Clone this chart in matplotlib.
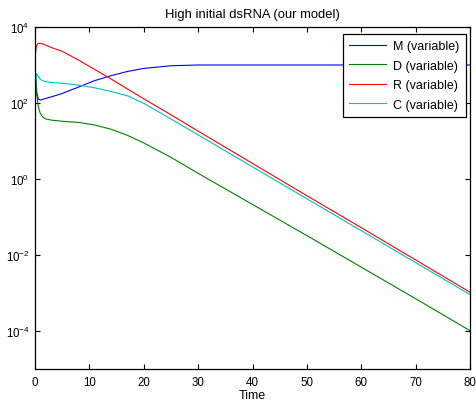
import matplotlib
matplotlib.use("Agg")
import matplotlib.pyplot as plt
import numpy as np

plt.rcParams['font.family'] = ['Liberation Sans', 'DejaVu Sans']
plt.rcParams['mathtext.fontset'] = 'custom'
plt.rcParams['mathtext.rm'] = 'Liberation Sans'
plt.rcParams['mathtext.it'] = 'Liberation Sans:italic'
plt.rcParams['mathtext.bf'] = 'Liberation Sans:bold'

# Sample times of the simulation output
time = [0, 0.15, 0.3, 0.6, 1, 1.5, 2, 3, 5, 8, 11, 14, 17, 20, 25, 30,
        40, 50, 60, 70, 80]

# Species trajectories
M = [1000, 398, 200, 126, 120, 126, 132, 145, 178, 263, 389, 525, 676,
     813, 955, 1000, 1000, 1000, 1000, 1000, 1000]
D = [1000, 398, 178, 83.2, 51.3, 41.7, 38.0, 35.5, 33.1, 30.9, 26.3, 20.4,
     14.1, 8.91, 3.72, 1.41, 0.214, 0.0324, 0.00479, 0.000708, 0.000102]
R = [1288, 2512, 3311, 3715, 3715, 3548, 3311, 2884, 2291, 1349, 759, 427,
     234, 129, 49, 18.2, 2.57, 0.363, 0.0525, 0.00741, 0.00105]
C = [100, 447, 603, 501, 417, 380, 363, 347, 331, 295, 251, 200, 155, 98,
     38, 14.5, 2.09, 0.302, 0.0437, 0.00631, 0.000912]

labels = ['M (variable)', 'D (variable)', 'R (variable)', 'C (variable)']
colors = ['#0000ff', '#008000', '#ff0000', '#00bfbf']

xticks = [0, 10, 20, 30, 40, 50, 60, 70, 80]
yticks = [1e-4, 1e-2, 1e0, 1e2, 1e4]

fig = plt.figure(figsize=(4.77, 4.10), dpi=100)
ax = fig.add_axes([35 / 477, 40 / 410, 435 / 477, 342 / 410])

for series, lab, col in zip([M, D, R, C], labels, colors):
    ax.plot(time, series, color=col, lw=0.8, label=lab)

ax.set_yscale('log')
ax.set_xlim(0, 80)
ax.set_ylim(1e-5, 1e4)
ax.set_xticks(xticks)
ax.set_yticks(yticks)
ax.yaxis.set_minor_locator(matplotlib.ticker.NullLocator())
ax.tick_params(which='both', direction='in', top=True, right=True,
               length=3.5, width=0.8, labelsize=8.3, pad=4)
ax.tick_params(axis='x', pad=5)
for sp in ax.spines.values():
    sp.set_linewidth(0.9)

ax.set_xlabel('Time', fontsize=9, labelpad=1)
ax.set_title('High initial dsRNA (our model)', fontsize=9.4, pad=7)

leg = ax.legend(loc='upper right', bbox_to_anchor=(466 / 477, 375 / 410),
                bbox_transform=fig.transFigure, borderaxespad=0,
                fontsize=9, handlelength=2.95, handletextpad=0.6,
                labelspacing=0.6, borderpad=0.5, fancybox=False,
                framealpha=1, edgecolor='black')
leg.get_frame().set_linewidth(0.9)

fig.savefig('out.png', dpi=100)
